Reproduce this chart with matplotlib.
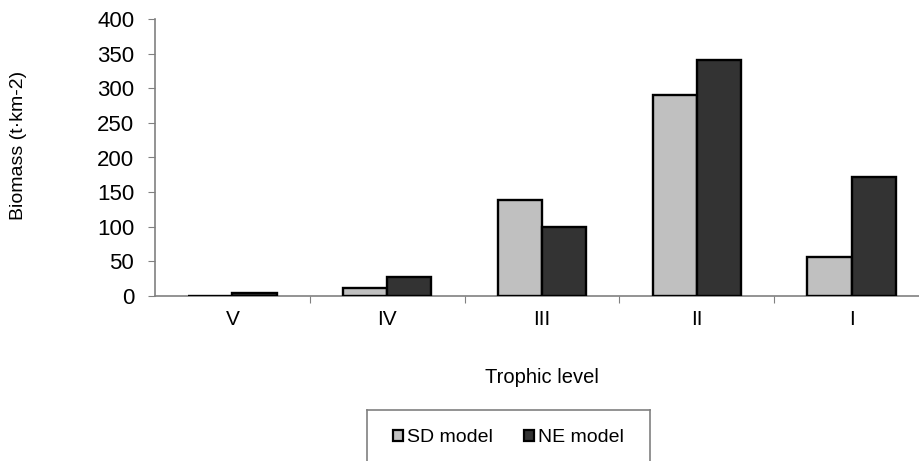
import numpy as np
import matplotlib
matplotlib.use("Agg")
import matplotlib.pyplot as plt
from matplotlib.patches import Patch

plt.rcParams['font.family'] = ['Liberation Sans', 'DejaVu Sans']

levels = ["V", "IV", "III", "II", "I"]
sd_model = [0.5, 12, 139, 290, 57]
ne_model = [4, 27, 100, 341, 172]
yticks = [0, 50, 100, 150, 200, 250, 300, 350, 400]

W, H = 920, 461
fig = plt.figure(figsize=(W / 100, H / 100), dpi=100)

# plot area (runs past the right edge, as in the reference crop)
left, right, top, bot = 155, 929, 19, 296
ax = fig.add_axes([left / W, 1 - bot / H, (right - left) / W, (bot - top) / H])

x = np.arange(len(levels))
bw = 0.285
ax.bar(x - bw / 2, sd_model, bw, color="#c0c0c0", edgecolor="black", linewidth=1.7, zorder=3)
ax.bar(x + bw / 2, ne_model, bw, color="#333333", edgecolor="black", linewidth=1.7, zorder=3)

ax.set_xlim(-0.5, len(levels) - 0.5)
ax.set_ylim(0, 400)
ax.set_yticks(yticks)
ax.tick_params(axis="y", direction="out", length=5, color="#808080", labelsize=16, pad=10)

# ticks between categories, labels at centres
ax.set_xticks(x[:-1] + 0.5)
ax.set_xticklabels([])
ax.set_xticks(x, minor=True)
ax.set_xticklabels(levels, minor=True, fontsize=15)
ax.tick_params(axis="x", which="major", direction="out", length=5, color="#808080")
ax.tick_params(axis="x", which="minor", length=0, pad=10)

for s in ["top", "right"]:
    ax.spines[s].set_visible(False)
for s in ["left", "bottom"]:
    ax.spines[s].set_color("#808080")
    ax.spines[s].set_linewidth(1.2)

ax.set_xlabel("Trophic level", fontsize=14.5)
ax.xaxis.set_label_coords(0.5, -72 / (bot - top))
ax.set_ylabel("Biomass (t\u00b7km-2)", fontsize=14)
ax.yaxis.set_label_coords(-128 / (right - left), 0.545)

# legend box
lax = fig.add_axes([367 / W, 1 - 465 / H, (650 - 367) / W, (465 - 410) / H])
lax.set_xticks([])
lax.set_yticks([])
for s in lax.spines.values():
    s.set_color("#808080")
    s.set_linewidth(1.2)
handles = [Patch(facecolor="#c0c0c0", edgecolor="black", linewidth=1.6),
           Patch(facecolor="#333333", edgecolor="black", linewidth=1.6)]
lax.legend(handles, ["SD model", "NE model"], loc="center", ncol=2, frameon=False,
           fontsize=14, handlelength=0.5, handleheight=0.5, handletextpad=0.2,
           columnspacing=1.6)

fig.savefig("out.png", dpi=100)
